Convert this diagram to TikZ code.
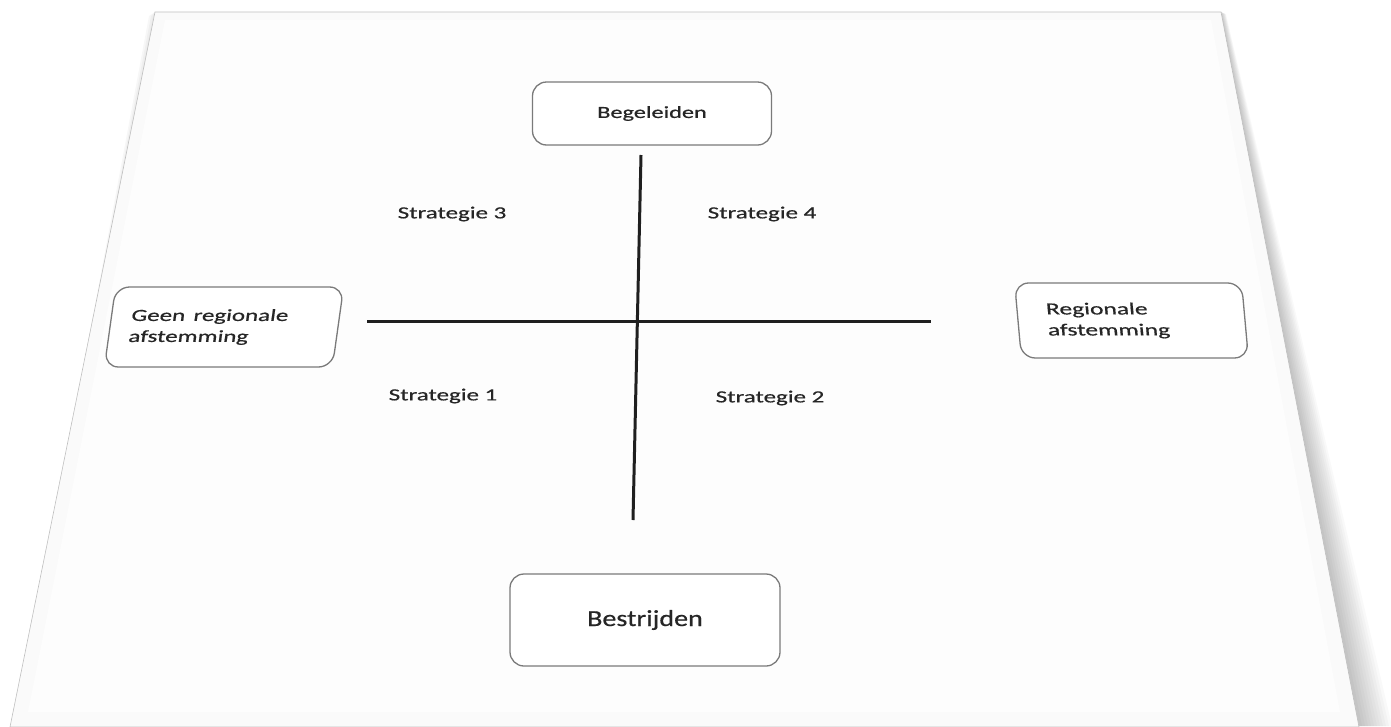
\documentclass[tikz,border=0pt]{standalone}
\usepackage{fontspec}
\setmainfont{Carlito}[FakeBold=0.5]
\usetikzlibrary{calc}
\definecolor{pagefill}{HTML}{FAFAFA}
\definecolor{boxgray}{HTML}{7A7A7A}
\definecolor{txt}{HTML}{262626}
\begin{document}
\begin{tikzpicture}[x=1pt,y=-1pt,
  boxnode/.style={draw=boxgray, line width=1.3pt, rounded corners=14pt, fill=white, inner sep=0pt, text=txt, font=\fontsize{17}{21}\selectfont},
  lbl/.style={text=txt, inner sep=0pt, font=\fontsize{17}{20}\selectfont},
  axisline/.style={line width=3pt, draw=black!88}]
\useasboundingbox (0,0) rectangle (1391,726);
% shadow on the right
\foreach \d in {3,6,...,33}
  \fill[black, opacity=0.025] (1221,12) -- (1221+\d*0.15,14) -- (1359+\d,726) -- (1340,726) -- cycle;
% faint shadow on the left top
\foreach \d in {2,4,6}
  \fill[black, opacity=0.03] (155,12) -- (155-\d,16) -- (40,600) -- (60,600) -- cycle;
% page
\fill[pagefill, draw=black!25, line width=0.6pt] (155,12) -- (1221,12) -- (1359,727) -- (10,727) -- cycle;
\fill[white!60!pagefill] (165,20) -- (1211,20) -- (1340,712) -- (28,712) -- cycle;

% boxes
\node[boxnode, minimum width=239, minimum height=63] (beg) at (652,113.5)
  {\scalebox{1.43}[1]{Begeleiden}\hspace{9pt}};
\node[boxnode, minimum width=270, minimum height=92, font=\fontsize{23}{27}\selectfont] (bes) at (645,620)
  {\scalebox{1.22}[1]{Bestrijden}\hspace{20pt}};
\node[boxnode, xslant=0.14, transform shape, text width=188pt, inner xsep=20pt, minimum height=80, align=left] (geen) at (224,327)
  {\scalebox{1.47}[1]{Geen regionale}\\\scalebox{1.47}[1]{afstemming}};
\node[boxnode, xslant=-0.09, transform shape, text width=169pt, inner xsep=29pt, minimum height=75, align=left] (reg) at (1131.5,320.5)
  {\scalebox{1.5}[1]{Regionale}\\\scalebox{1.5}[1]{afstemming}};

% axes
\coordinate (vt) at (641,155);
\coordinate (vb) at (633,520);
\coordinate (hl) at (367,321.5);
\coordinate (hr) at (931,321.5);
\draw[axisline] (vt) -- (vb);
\draw[axisline] (hl) -- (hr);

% strategy labels
\node[lbl] (s3) at (452,214) {\scalebox{1.47}[1]{Strategie 3}};
\node[lbl] (s4) at (762,214) {\scalebox{1.47}[1]{Strategie 4}};
\node[lbl] (s1) at (443,396) {\scalebox{1.47}[1]{Strategie 1}};
\node[lbl] (s2) at (770,398) {\scalebox{1.47}[1]{Strategie 2}};
\end{tikzpicture}
\end{document}
